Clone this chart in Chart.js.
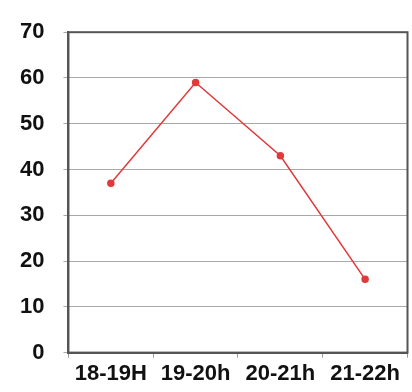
<!DOCTYPE html>
<html>
<head>
<meta charset="utf-8">
<script src="https://cdn.jsdelivr.net/npm/chart.js@4"></script>
<style>
    html, body { margin: 0; padding: 0; background: #fff; }
    #wrap { width: 412px; height: 392px; }
</style>
</head>
<body>
<div id="wrap"><canvas id="hoursChart"></canvas></div>
<script>
var hours = ["18-19H", "19-20h", "20-21h", "21-22h"]
var counts = [37, 59, 43, 16]
var yTicks = [0, 10, 20, 30, 40, 50, 60, 70]

// box round the plot area, like the original spreadsheet chart
var plotBox = {
    id: "plotBox",
    afterDraw: function(chart){
        var a = chart.chartArea
        var ctx = chart.ctx
        ctx.save()
        ctx.strokeStyle = "#555"
        ctx.lineWidth = 2
        ctx.strokeRect(a.left, a.top, a.right - a.left, a.bottom - a.top)
        ctx.restore()
    }
}

drawHours()

function drawHours(){
    var canvas = document.querySelector("#hoursChart")
    var font = { family: "'Liberation Sans', Arial, sans-serif", size: 22, weight: "bold" }

    var lineData = {
        data: counts,
        borderColor: "#e03a3a",
        backgroundColor: "#e03a3a",
        borderWidth: 1.5,
        pointRadius: 3,
        pointHoverRadius: 3,
        tension: 0
    }

    var lineChart = new Chart(canvas, {
        type: "line",
        data: {
            labels: hours,
            datasets: [lineData]
        },
        plugins: [plotBox],
        options: {
            responsive: true,
            maintainAspectRatio: false,
            animation: false,
            layout: { padding: { left: 1, right: 1, top: 6, bottom: 2 } },
            plugins: {
                legend: { display: false },
                tooltip: { enabled: false }
            },
            scales: {
                x: {
                    offset: true,
                    grid: { offset: true, drawOnChartArea: false, tickLength: 5, color: "#999" },
                    border: { color: "#555", width: 2 },
                    ticks: { color: "#111", font: font, padding: 3, maxRotation: 0, autoSkip: false }
                },
                y: {
                    min: 0,
                    max: 70,
                    afterBuildTicks: function(axis){
                        axis.ticks = yTicks.map(function(v){ return { value: v } })
                    },
                    grid: { color: "#a8a8a8", tickLength: 5 },
                    border: { color: "#555", width: 2 },
                    ticks: { color: "#111", font: font, padding: 19 }
                }
            }
        }
    })
}
</script>
</body>
</html>
